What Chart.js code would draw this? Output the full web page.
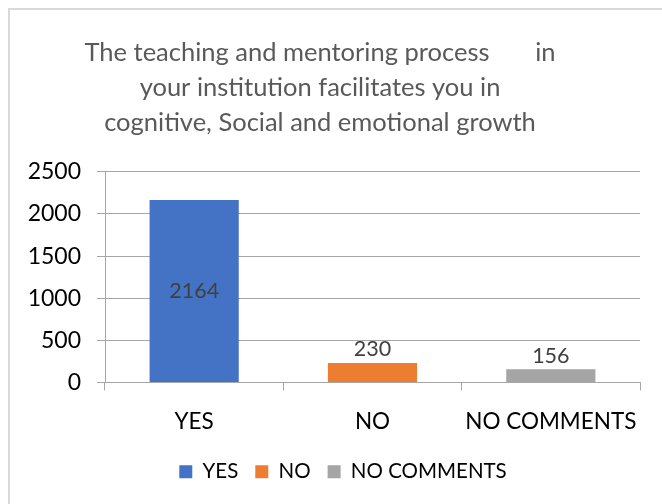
<!DOCTYPE html>
<html>
<head>
<meta charset="utf-8">
<script src="https://cdn.jsdelivr.net/npm/chart.js@4"></script>
<style>
  html, body { margin: 0; padding: 0; background: #fff; }
  #wrap { position: relative; width: 662px; height: 504px; overflow: hidden; }
  #frame { position: absolute; left: 8px; top: 8px; width: 700px; height: 600px;
           border-left: 2px solid #d9d9d9; border-top: 2px solid #d9d9d9; }
  canvas { position: absolute; left: 0; top: 0; }
</style>
</head>
<body>
<div id="wrap">
  <div id="frame"></div>
  <canvas id="chart" width="662" height="504"></canvas>
</div>
<script>
// data
const categories = ['YES', 'NO', 'NO COMMENTS'];
const responses = [2164, 230, 156];
const barColors = ['#4472C4', '#ED7D31', '#A5A5A5'];
const titleLines = [
  'The teaching and mentoring process       in',
  'your institution facilitates you in',
  'cognitive, Social and emotional growth'
];
const yTicks = [0, 500, 1000, 1500, 2000, 2500];

const FONT = 'Lato, "Open Sans", sans-serif';
const LINE = '#a6a6a6';

// value labels like excel: first one in the middle of the bar, the rest above
const valueLabels = {
  id: 'valueLabels',
  afterDatasetsDraw(chart) {
    const ctx = chart.ctx;
    const meta = chart.getDatasetMeta(0);
    ctx.save();
    ctx.font = '21.5px ' + FONT;
    ctx.fillStyle = '#404040';
    ctx.textAlign = 'center';
    meta.data.forEach((bar, i) => {
      const v = chart.data.datasets[0].data[i];
      if (i === 0) {
        ctx.textBaseline = 'middle';
        ctx.fillText(String(v), bar.x, (bar.y + bar.base) / 2);
      } else {
        ctx.textBaseline = 'bottom';
        ctx.fillText(String(v), bar.x, bar.y - 3);
      }
    });
    ctx.restore();
  }
};

// the legend in the original sits a bit right of centre
const legendShift = {
  id: 'legendShift',
  afterLayout(chart) {
    chart.legend.left += 23;
    chart.legend.right += 23;
  }
};

new Chart(document.getElementById('chart'), {
  type: 'bar',
  data: {
    labels: categories,
    datasets: [{
      data: responses,
      backgroundColor: barColors,
      barPercentage: 0.5,
      categoryPercentage: 1.0
    }]
  },
  options: {
    responsive: false,
    animation: false,
    layout: { padding: { left: 0, right: 22, top: 0, bottom: 12 } },
    plugins: {
      title: {
        display: true,
        text: titleLines,
        color: '#595959',
        font: { family: FONT, size: 25.5, weight: 'normal', lineHeight: 1.37 },
        padding: { top: 35, bottom: 32 }
      },
      legend: {
        position: 'bottom',
        labels: {
          color: '#595959',
          font: { family: FONT, size: 20.5 },
          boxWidth: 13,
          boxHeight: 13,
          padding: 17,
          generateLabels: (chart) => categories.map((c, i) => ({
            text: c,
            fillStyle: barColors[i],
            strokeStyle: barColors[i],
            lineWidth: 0,
            index: i
          }))
        }
      },
      tooltip: { enabled: false }
    },
    scales: {
      x: {
        grid: { display: true, drawOnChartArea: false, offset: true, tickLength: 8, color: LINE },
        border: { color: LINE },
        ticks: { color: '#000', font: { family: FONT, size: 22.5 }, padding: 18 },
        afterFit: (axis) => { axis.height -= 9; }
      },
      y: {
        min: 0,
        max: 2500,
        afterBuildTicks: (axis) => { axis.ticks = yTicks.map(v => ({ value: v })); },
        afterFit: (axis) => { axis.width = 105; },
        grid: { color: LINE, tickLength: 8 },
        border: { display: true, color: LINE },
        ticks: { color: '#000', font: { family: FONT, size: 23 }, padding: 16, callback: (v) => String(v) }
      }
    }
  },
  plugins: [valueLabels, legendShift]
});
</script>
</body>
</html>
